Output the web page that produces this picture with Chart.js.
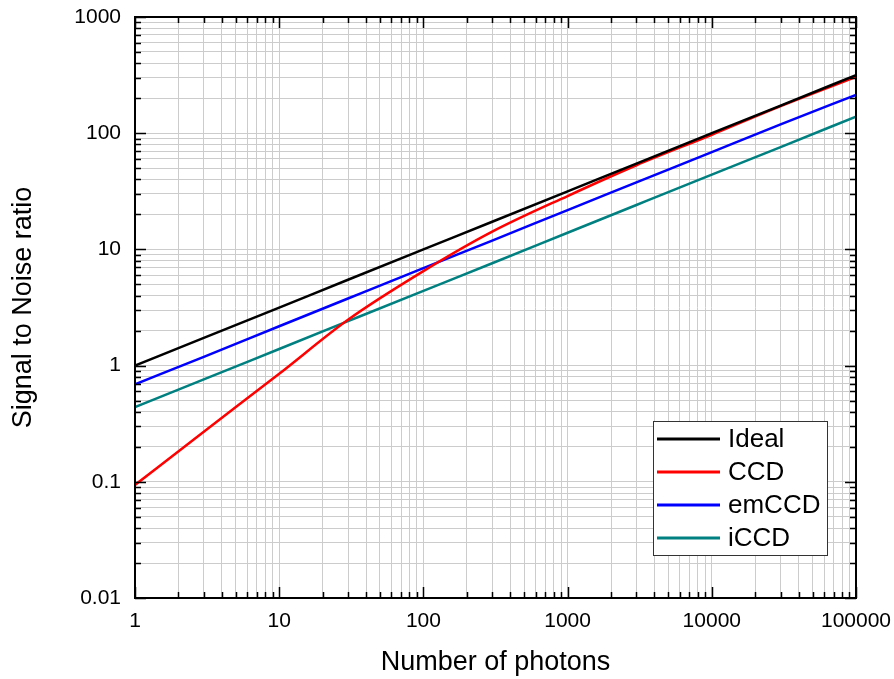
<!DOCTYPE html>
<html>
<head>
<meta charset="utf-8">
<script src="https://cdn.jsdelivr.net/npm/chart.js@4.4.1/dist/chart.umd.min.js"></script>
<style>
  html, body { margin: 0; padding: 0; background: #fff; }
  #wrap { width: 894px; height: 679px; }
</style>
</head>
<body>
<div id="wrap"><canvas id="snr"></canvas></div>
<script>
// values (log-log)
const photons = [1, 3, 10, 30, 100, 300, 1000, 3000, 10000, 30000, 100000];
const ideal = [1, 1.73, 3.16, 5.48, 10, 17.3, 31.6, 54.8, 100, 173, 316];
const ccd = [0.094, 0.27, 0.85, 2.48, 6.5, 14.2, 28.8, 53, 97, 171, 305];
const emccd = [0.69, 1.19, 2.18, 3.78, 6.9, 11.9, 21.8, 37.7, 68.8, 119, 214];
const iccd = [0.44, 0.76, 1.39, 2.41, 4.4, 7.6, 13.9, 24.1, 44, 76, 139];

const xTickLabels = ["1", "10", "100", "1000", "10000", "100000"];
const yTickLabels = ["0.01", "0.1", "1", "10", "100", "1000"];

const FONT = "'Liberation Sans', Arial, Helvetica, sans-serif";

function pts(ys) { return photons.map((x, i) => ({ x: x, y: ys[i] })); }

// 1..9 x 10^n between the decades
function logTicks(labels) {
  const out = [];
  const e0 = Math.round(Math.log10(parseFloat(labels[0])));
  const e1 = Math.round(Math.log10(parseFloat(labels[labels.length - 1])));
  for (let e = e0; e <= e1; e++) {
    const steps = e === e1 ? [1] : [1, 2, 3, 4, 5, 6, 7, 8, 9];
    steps.forEach((s) => out.push({ value: parseFloat((s * Math.pow(10, e)).toPrecision(6)) }));
  }
  return out;
}

function isDecade(v) { return Math.abs(Math.log10(v) - Math.round(Math.log10(v))) < 1e-9; }

function labelFor(labels) {
  const e0 = Math.round(Math.log10(parseFloat(labels[0])));
  return (v) => isDecade(v) ? labels[Math.round(Math.log10(v)) - e0] : "";
}

// frame, inward ticks on all four sides, boxed legend
const framePlugin = {
  id: "frame",
  afterDraw(chart) {
    const { ctx, chartArea: a, scales } = chart;
    ctx.save();
    ctx.strokeStyle = "#000";
    ctx.lineWidth = 1.5;
    scales.x.ticks.forEach((t) => {
      const px = Math.round(scales.x.getPixelForValue(t.value)) + 0.5;
      const len = isDecade(t.value) ? 11 : 6;
      ctx.beginPath();
      ctx.moveTo(px, a.bottom); ctx.lineTo(px, a.bottom - len);
      ctx.moveTo(px, a.top); ctx.lineTo(px, a.top + len);
      ctx.stroke();
    });
    scales.y.ticks.forEach((t) => {
      const py = Math.round(scales.y.getPixelForValue(t.value)) + 0.5;
      const len = isDecade(t.value) ? 11 : 6;
      ctx.beginPath();
      ctx.moveTo(a.left, py); ctx.lineTo(a.left + len, py);
      ctx.moveTo(a.right, py); ctx.lineTo(a.right - len, py);
      ctx.stroke();
    });
    ctx.lineWidth = 2;
    ctx.strokeRect(a.left, a.top, a.right - a.left, a.bottom - a.top);

    // legend
    const w = 174, h = 134;
    const lx = a.right - 29 - w, ly = a.bottom - 43 - h;
    ctx.fillStyle = "#fff";
    ctx.fillRect(lx, ly, w, h);
    ctx.lineWidth = 1;
    ctx.strokeStyle = "#333";
    ctx.strokeRect(lx + 0.5, ly + 0.5, w, h);
    ctx.font = "26px " + FONT;
    ctx.textBaseline = "middle";
    ctx.textAlign = "left";
    chart.data.datasets.forEach((ds, i) => {
      const cy = ly + 18 + i * 33;
      ctx.strokeStyle = ds.borderColor;
      ctx.lineWidth = 3;
      ctx.beginPath();
      ctx.moveTo(lx + 4, cy); ctx.lineTo(lx + 67, cy);
      ctx.stroke();
      ctx.fillStyle = "#000";
      ctx.fillText(ds.label, lx + 75, cy + 1);
    });
    ctx.restore();
  }
};

const line = (label, ys, color) => ({
  label: label,
  data: pts(ys),
  borderColor: color,
  backgroundColor: color,
  borderWidth: 2.5,
  pointRadius: 0,
  fill: false,
  cubicInterpolationMode: "monotone"
});

new Chart(document.getElementById("snr"), {
  type: "line",
  data: {
    datasets: [
      line("Ideal", ideal, "#000000"),
      line("CCD", ccd, "#ff0000"),
      line("emCCD", emccd, "#0000ff"),
      line("iCCD", iccd, "#008080")
    ]
  },
  options: {
    responsive: true,
    maintainAspectRatio: false,
    animation: false,
    devicePixelRatio: 1,
    layout: { padding: { top: 17, right: 38, left: 0, bottom: 0 } },
    plugins: { legend: { display: false }, tooltip: { enabled: false } },
    scales: {
      x: {
        type: "logarithmic",
        min: 1,
        max: 100000,
        afterBuildTicks: (s) => { s.ticks = logTicks(xTickLabels); },
        afterFit: (s) => { s.height = 81; s.paddingLeft = 0; s.paddingRight = 0; },
        grid: { color: "#cccccc", lineWidth: 1, drawTicks: false },
        border: { display: false },
        ticks: {
          autoSkip: false, maxRotation: 0, padding: 11,
          color: "#000", font: { family: FONT, size: 21 },
          callback: labelFor(xTickLabels)
        },
        title: {
          display: true, text: "Number of photons", color: "#000",
          font: { family: FONT, size: 27 }, padding: { top: 0, bottom: 0 }
        }
      },
      y: {
        type: "logarithmic",
        min: 0.01,
        max: 1000,
        afterBuildTicks: (s) => { s.ticks = logTicks(yTickLabels); },
        afterFit: (s) => { s.width = 135; s.paddingTop = 0; s.paddingBottom = 0; },
        grid: { color: "#cccccc", lineWidth: 1, drawTicks: false },
        border: { display: false },
        ticks: {
          autoSkip: false, padding: 14,
          color: "#000", font: { family: FONT, size: 21 },
          callback: labelFor(yTickLabels)
        },
        title: {
          display: true, text: "Signal to Noise ratio", color: "#000",
          font: { family: FONT, size: 27 }, padding: { top: 7, bottom: 0 }
        }
      }
    }
  },
  plugins: [framePlugin]
});
</script>
</body>
</html>
